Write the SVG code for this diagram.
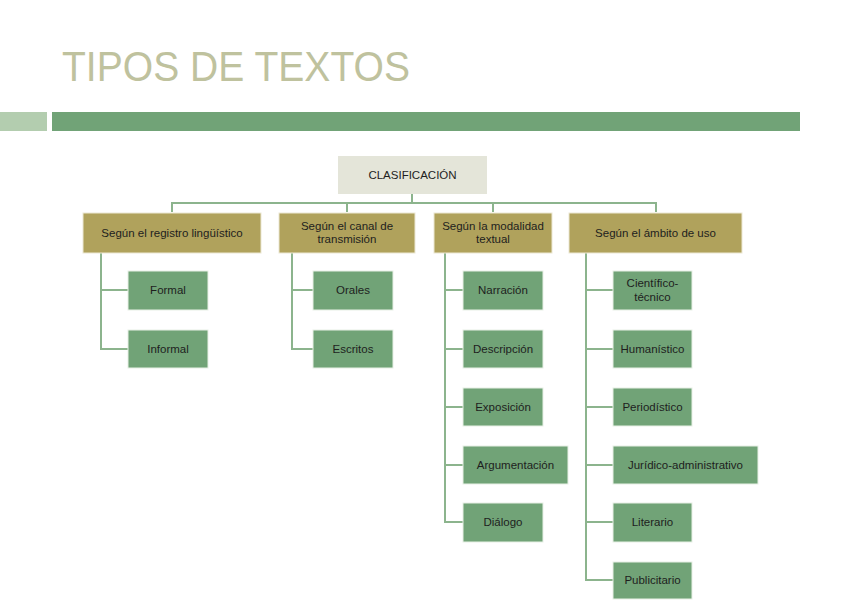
<svg xmlns="http://www.w3.org/2000/svg" width="848" height="600" viewBox="0 0 848 600">
<style>
.t{font-family:"Liberation Sans",Arial,sans-serif;font-size:11.5px;fill:#1e1e1e;text-anchor:middle}
.c{fill:#71a377;stroke:#e8f0e6;stroke-width:1}
.g{fill:#b0a25c;stroke:#ece8d4;stroke-width:1}
.ln{fill:none;stroke:#8cb48d;stroke-width:2}
</style>
<rect width="848" height="600" fill="#ffffff"/>
<text x="62" y="81" font-family="'Liberation Sans',Arial,sans-serif" font-size="43" fill="#bfc29e" textLength="348" lengthAdjust="spacingAndGlyphs">TIPOS DE TEXTOS</text>
<rect x="0" y="112" width="47" height="19" fill="#b3cdaf"/>
<rect x="52" y="112" width="748" height="19" fill="#71a377"/>
<g id="connectors" class="ln">
<path d="M412 194V203M172 212V203H656V212M347 203V212M493 203V212"/>
<path d="M101 253V349H128M101 290H128"/>
<path d="M292 253V349H313M292 290H313"/>
<path d="M445 253V522H463M445 290H463M445 349H463M445 407H463M445 465H463"/>
<path d="M586 253V580H613M586 290H613M586 349H613M586 407H613M586 465H613M586 522H613"/>
</g>
<g id="clasificacion"><rect x="338" y="156" width="149" height="38" fill="#e4e5d9"/><text class="t" x="412.5" y="179">CLASIFICACIÓN</text></g>
<g id="registro"><rect class="g" x="83" y="213" width="178" height="40"/><text class="t" x="172" y="237">Según el registro lingüístico</text></g>
<g id="canal"><rect class="g" x="279" y="213" width="136" height="40"/><text class="t" x="347" y="230">Según el canal de</text><text class="t" x="347" y="243">transmisión</text></g>
<g id="modalidad"><rect class="g" x="434" y="213" width="118" height="40"/><text class="t" x="493" y="230">Según la modalidad</text><text class="t" x="493" y="243">textual</text></g>
<g id="ambito"><rect class="g" x="569" y="213" width="173" height="40"/><text class="t" x="655.5" y="237">Según el ámbito de uso</text></g>
<g id="formal"><rect class="c" x="128" y="271" width="80" height="39"/><text class="t" x="168" y="294">Formal</text></g>
<g id="informal"><rect class="c" x="128" y="330" width="80" height="38"/><text class="t" x="168" y="353">Informal</text></g>
<g id="orales"><rect class="c" x="313" y="271" width="80" height="39"/><text class="t" x="353" y="294">Orales</text></g>
<g id="escritos"><rect class="c" x="313" y="330" width="80" height="38"/><text class="t" x="353" y="353">Escritos</text></g>
<g id="narracion"><rect class="c" x="463" y="271" width="80" height="39"/><text class="t" x="503" y="294">Narración</text></g>
<g id="descripcion"><rect class="c" x="463" y="330" width="80" height="38"/><text class="t" x="503" y="353">Descripción</text></g>
<g id="exposicion"><rect class="c" x="463" y="388" width="80" height="38"/><text class="t" x="503" y="411">Exposición</text></g>
<g id="argumentacion"><rect class="c" x="463" y="446" width="105" height="38"/><text class="t" x="515.5" y="469">Argumentación</text></g>
<g id="dialogo"><rect class="c" x="463" y="503" width="80" height="39"/><text class="t" x="503" y="526">Diálogo</text></g>
<g id="cientifico"><rect class="c" x="613" y="271" width="79" height="39"/><text class="t" x="652.5" y="287">Científico-</text><text class="t" x="652.5" y="301">técnico</text></g>
<g id="humanistico"><rect class="c" x="613" y="330" width="79" height="38"/><text class="t" x="652.5" y="353">Humanístico</text></g>
<g id="periodistico"><rect class="c" x="613" y="388" width="79" height="38"/><text class="t" x="652.5" y="411">Periodístico</text></g>
<g id="juridico"><rect class="c" x="613" y="446" width="145" height="38"/><text class="t" x="685.5" y="469">Jurídico-administrativo</text></g>
<g id="literario"><rect class="c" x="613" y="503" width="79" height="39"/><text class="t" x="652.5" y="526">Literario</text></g>
<g id="publicitario"><rect class="c" x="613" y="562" width="79" height="37"/><text class="t" x="652.5" y="584">Publicitario</text></g>
</svg>
